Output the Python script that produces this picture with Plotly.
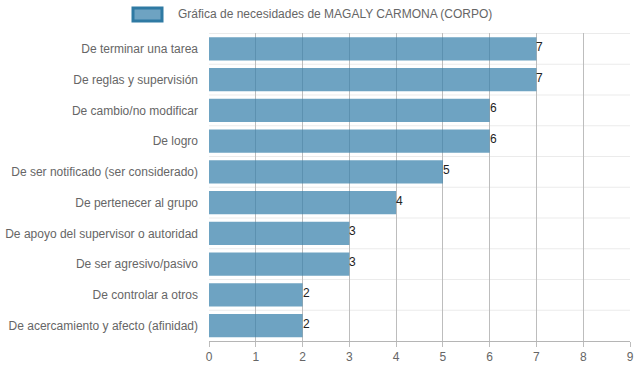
import plotly.graph_objects as go

categories = [
    "De terminar una tarea",
    "De reglas y supervisión",
    "De cambio/no modificar",
    "De logro",
    "De ser notificado (ser considerado)",
    "De pertenecer al grupo",
    "De apoyo del supervisor o autoridad",
    "De ser agresivo/pasivo",
    "De controlar a otros",
    "De acercamiento y afecto (afinidad)",
]
values = [7, 7, 6, 6, 5, 4, 3, 3, 2, 2]
series_name = "Gráfica de necesidades de MAGALY CARMONA (CORPO)"
x_ticks = list(range(0, 10))

FONT = "Liberation Sans, Arial, Helvetica, sans-serif"

fig = go.Figure()
fig.add_trace(go.Bar(
    x=values,
    y=categories,
    orientation="h",
    width=0.75,
    marker=dict(color="rgba(54,128,170,0.72)",
                line=dict(color="rgba(54,128,170,0.0)", width=0)),
    showlegend=False,
    hoverinfo="x+y",
))

annotations = []
for c, v in zip(categories, values):
    annotations.append(dict(x=v, y=c, xref="x", yref="y", text=str(v),
                            xanchor="left", yanchor="middle", xshift=-2, yshift=2,
                            showarrow=False,
                            font=dict(family=FONT, size=12, color="#222")))

shapes = []
# light horizontal gridlines between categories
for i in range(len(categories)):
    shapes.append(dict(type="line", xref="paper", yref="y",
                       x0=0, x1=1, y0=i - 0.5, y1=i - 0.5,
                       line=dict(color="#ebebeb", width=1), layer="below"))
# legend box
shapes.append(dict(type="rect", xref="paper", yref="paper",
                   x0=(133 - 209) / 421, x1=(162 - 209) / 421,
                   y0=(341 - 21) / 308, y1=(341 - 8) / 308,
                   fillcolor="rgba(54,128,170,0.72)",
                   line=dict(color="#2f7aa3", width=3)))

annotations.append(dict(text=series_name, xref="paper", yref="paper",
                        x=(176 - 209) / 421, y=(341 - 14.5) / 308,
                        xanchor="left", yanchor="middle", showarrow=False,
                        font=dict(family=FONT, size=12, color="#666")))

fig.update_layout(
    width=637, height=371,
    margin=dict(l=209, r=7, t=33, b=30, autoexpand=False),
    paper_bgcolor="white", plot_bgcolor="white",
    font=dict(family=FONT, size=12, color="#666"),
    shapes=shapes,
    annotations=annotations,
    xaxis=dict(range=[0, 9], tickvals=x_ticks, showgrid=True,
               gridcolor="#bdbdbd", gridwidth=1, zeroline=False,
               showline=True, linecolor="#b5b5b5", linewidth=1,
               ticks="outside", ticklen=5, tickcolor="#bdbdbd",
               automargin=False,
               tickfont=dict(size=12, color="#666"), fixedrange=True),
    yaxis=dict(autorange="reversed", showgrid=False, zeroline=False,
               showline=False, ticks="", ticklabelstandoff=10,
               automargin=False,
               tickfont=dict(size=12, color="#666"), fixedrange=True),
)

fig.write_html(
    "out.html",
    config={"displayModeBar": False},
    post_script="document.body.style.margin='0';document.body.style.overflow='hidden';",
)
